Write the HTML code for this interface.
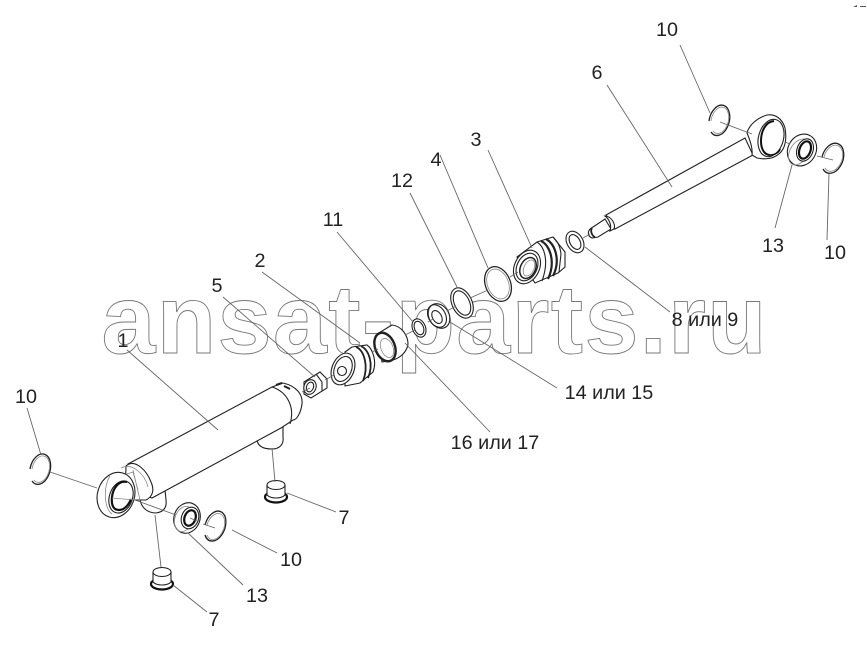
<!DOCTYPE html>
<html><head><meta charset="utf-8"><style>
html,body{margin:0;padding:0;background:#fff;width:867px;height:649px;overflow:hidden}
svg{display:block}
.wm{font:bold 97px "Liberation Sans",sans-serif;letter-spacing:1.4px;fill:#fff;stroke:#777;stroke-width:.9}
.l text{font:19.800px "Liberation Sans","DejaVu Sans",sans-serif;fill:#222;text-anchor:middle}
.lead{stroke:#666;stroke-width:.9;fill:none}
.p{stroke:#222;stroke-width:1.1;fill:#fff}
.n{stroke:#222;stroke-width:1.1;fill:none}
.g{stroke:#888;stroke-width:.8;fill:none}
.k{stroke:#111;stroke-width:2.2;fill:none}
</style></head><body>
<svg width="867" height="649" viewBox="0 0 867 649" xmlns="http://www.w3.org/2000/svg">
<rect width="867" height="649" fill="#fff"/>
<text class="wm" x="101.500" y="353">ansat-parts.ru</text>

<!-- plugs -->
<ellipse class="k" cx="276" cy="497" rx="11" ry="5.500"/>
<path class="p" d="M267 485L267 495C271 499 281 499 285 495L285 485Z"/>
<ellipse class="p" cx="276" cy="485" rx="9" ry="4.500"/>
<ellipse class="k" cx="162" cy="584" rx="11" ry="5.500"/>
<path class="p" d="M153 572L153 582C157 586 167 586 171 582L171 572Z"/>
<ellipse class="p" cx="162" cy="572" rx="9" ry="4.500"/>

<!-- cylinder ports -->
<path class="p" d="M257 440C258 447 264 449 272 449C280 449 284 444 283 437L283 425L257 436Z"/>
<path class="p" d="M140 499C141 508 148 513 156 513C164 512 167 507 166 500L165 490L140 497Z"/>

<!-- cylinder -->
<path class="p" d="M128 464L272 387L283 383C296 386 303 394 302 404C301 412 297 420 293 420L281 428L152 498L130 490Z"/>
<path class="n" d="M272 387C288 392 295 408 290 424"/>
<path class="n" d="M276 385L282 383M284 386L290 389" style="stroke-width:2"/>
<path class="p" d="M126 466C135 458 147 471 151 482C155 491 152 497 146 500L125 500Z"/>
<path class="g" d="M121 468C133 462 145 475 148 487"/>
<path class="g" d="M133 470L140 500M127 474L133 472L138 490"/>

<!-- left eye -->
<ellipse class="p" cx="116" cy="495" rx="18.500" ry="23" transform="rotate(18 116 495)"/>
<path class="g" d="M110 476C103 487 104 508 112 514"/>
<ellipse class="p" cx="121" cy="497" rx="11.500" ry="16.500" transform="rotate(20 121 497)"/>
<path class="k" d="M127 482C119 480 113 488 112 497C111 506 114 510 119 510C124 510 129 505 131 499"/>
<path class="g" d="M112 498L135 500"/>

<!-- rings 10 -->
<path class="n" d="M30 469A10 15.500 15 1 1 32 481" style="stroke-width:1.300"/>
<path class="g" d="M32 469A8.500 13.500 15 1 1 34 480"/>
<path class="n" d="M205 525A10 15.500 20 1 1 205 535" style="stroke-width:1.300"/>
<path class="g" d="M207 525A8.500 13.500 20 1 1 207 535"/>
<path class="n" d="M709 121A10 15.500 15 1 1 711 132" style="stroke-width:1.300"/>
<path class="g" d="M711 121A8.500 13.500 15 1 1 713 131"/>
<path class="n" d="M822 157A10.500 15.500 20 1 1 823 169" style="stroke-width:1.300"/>
<path class="g" d="M824 157A9 13.500 20 1 1 825 168"/>

<!-- lower bearing 13 -->
<ellipse class="p" cx="187" cy="518" rx="13" ry="15.500" transform="rotate(20 187 518)"/>
<ellipse class="g" cx="184" cy="519" rx="9" ry="13" transform="rotate(20 184 519)"/>
<ellipse class="p" cx="190" cy="518" rx="8.500" ry="11" transform="rotate(20 190 518)"/>
<ellipse class="k" cx="190" cy="518" rx="5.500" ry="8" transform="rotate(20 190 518)"/>

<!-- nut 5 -->
<path class="p" d="M304 382L320 372L327 379L327 388L311 398L304 394Z"/>
<path class="n" d="M316 374L322 382L322 391"/>
<ellipse class="p" cx="310" cy="387" rx="6" ry="7.500" transform="rotate(20 310 387)"/>
<ellipse class="n" cx="310" cy="387" rx="3.500" ry="5" transform="rotate(20 310 387)"/>

<!-- piston 2 -->
<path class="p" d="M345 352L352 347L367 345C373 349 377 362 373 372L360 383L345 386Z"/>
<path class="n" d="M356 347C364 350 369 366 363 381M361 346C369 350 374 364 368 378" style="stroke-width:1.800"/>
<ellipse class="p" cx="343" cy="369" rx="11" ry="16.500" transform="rotate(22 343 369)"/>
<ellipse class="n" cx="343" cy="369" rx="8.500" ry="13" transform="rotate(22 343 369)"/>
<circle class="n" cx="342" cy="371" r="4.500"/>

<!-- sleeve 16 -->
<path class="p" d="M377 334L392 325C402 326 408 336 408 344C407 352 400 358 393 360L382 362Z"/>
<ellipse class="p" cx="385" cy="347" rx="10.500" ry="15.500" transform="rotate(-22 385 347)"/>
<ellipse class="n" cx="385" cy="347" rx="9.500" ry="14.500" transform="rotate(-22 385 347)" style="stroke-width:1.800"/>
<ellipse class="g" cx="387" cy="348" rx="6" ry="10" transform="rotate(-22 387 348)"/>

<!-- ring 11 -->
<ellipse class="p" cx="419" cy="328" rx="6.500" ry="9.500" transform="rotate(-22 419 328)"/>
<ellipse class="n" cx="419" cy="328" rx="4.500" ry="7" transform="rotate(-22 419 328)"/>
<!-- ring 14/15 -->
<ellipse class="p" cx="439" cy="316" rx="10" ry="13" transform="rotate(-30 439 316)"/>
<ellipse class="n" cx="437" cy="316" rx="8.500" ry="12" transform="rotate(-30 437 316)"/>
<ellipse class="n" cx="437" cy="317" rx="4.500" ry="7" transform="rotate(-30 437 317)"/>
<!-- ring 12 -->
<ellipse class="p" cx="462" cy="303" rx="10" ry="16" transform="rotate(-25 462 303)"/>
<ellipse class="n" cx="462" cy="303" rx="7.500" ry="13" transform="rotate(-25 462 303)"/>
<!-- ring 4 -->
<ellipse class="n" cx="498" cy="284" rx="12.500" ry="18" transform="rotate(-22 498 284)" style="stroke-width:1.300"/>
<ellipse class="g" cx="498" cy="284" rx="10.500" ry="15.500" transform="rotate(-22 498 284)"/>

<!-- gland 3 -->
<path class="p" d="M517 257L537 242L553 237L565 252L565 267L558 273L535 283Z"/>
<path class="n" d="M541 241C550 245 556 262 548 279M546 239C555 244 561 260 553 276" style="stroke-width:2.200"/>
<path class="n" d="M537 242C545 247 549 262 542 281"/>
<path class="n" d="M553 237C558 242 560 246 561 254L559 272"/>
<ellipse class="p" cx="527" cy="267" rx="12.500" ry="17.500" transform="rotate(25 527 267)"/>
<ellipse class="n" cx="527" cy="267" rx="10" ry="14.500" transform="rotate(25 527 267)"/>
<ellipse class="n" cx="528" cy="268" rx="7.500" ry="11" transform="rotate(25 528 268)" style="stroke-width:1.500"/>
<ellipse class="g" cx="529" cy="268" rx="5" ry="8.500" transform="rotate(25 529 268)"/>

<!-- washer 8 -->
<ellipse class="p" cx="575" cy="242" rx="8" ry="11.500" transform="rotate(-30 575 242)"/>
<ellipse class="n" cx="575" cy="242" rx="5" ry="8" transform="rotate(-30 575 242)"/>

<!-- rod -->
<path class="p" d="M606 215L745 138L753 155L615 229Z"/>
<path class="p" d="M593 227L605 219L611 229L598 237L592 238C587 236 587 230 593 227Z"/>
<path class="p" d="M605 216C611 216 616 224 614 229L610 231C612 225 609 219 605 216Z"/>
<path class="n" d="M592 228C590 231 592 236 595 237" style="stroke-width:1.800"/>

<!-- rod eye -->
<path class="p" d="M747 133C749 125 757 118 767 115C775 114 782 118 785 128C787 140 785 148 780 153C775 158 767 160 757 158L752 155C753 148 750 140 747 133Z"/>
<ellipse class="p" cx="771" cy="138" rx="12.500" ry="19" transform="rotate(15 771 138)"/>
<path class="k" d="M774 121C765 122 761 132 761 141C761 150 765 155 770 155" style="stroke-width:2"/>
<path class="k" d="M770 155C776 155 780 151 780 149" style="stroke-width:1.500"/>

<!-- upper bearing 13 -->
<ellipse class="p" cx="802" cy="150" rx="14" ry="16.500" transform="rotate(30 802 150)"/>
<ellipse class="g" cx="799" cy="152" rx="9" ry="14" transform="rotate(30 799 152)"/>
<ellipse class="p" cx="805" cy="150" rx="8" ry="11.500" transform="rotate(20 805 150)"/>
<ellipse class="k" cx="805" cy="150" rx="5.500" ry="9" transform="rotate(20 805 150)"/>

<!-- leaders -->
<g class="lead">
<path d="M27 408L41 455M50 472L97 488"/>
<path d="M127 350L218 430"/>
<path d="M223 297L315 377"/>
<path d="M262 272L360 343"/>
<path d="M337 232L413 322"/>
<path d="M410 193L457 287"/>
<path d="M440 155L488 268"/>
<path d="M488 150L532 248"/>
<path d="M607 85L672 187"/>
<path d="M680 45L710 113M720 122L752 134"/>
<path d="M785 142L790 144M817 156L833 160"/>
<path d="M792 165L775 228"/>
<path d="M829 173L827 240"/>
<path d="M585 247L670 312"/>
<path d="M450 322L557 388"/>
<path d="M405 343L490 432"/>
<path d="M272 448L275 482"/>
<path d="M287 493L336 512"/>
<path d="M155 515L161 567"/>
<path d="M173 585L207 612"/>
<path d="M188 533L243 585"/>
<path d="M232 530L277 553"/>
<path d="M135 500L176 515M190 518L197 521M203 524L215 528"/>
<path d="M302 392L310 388M325 380L334 375M372 352L378 349M405 335L415 330M428 322L433 319M447 311L456 306M470 298L488 290M510 277L518 272M583 238L590 234"/>
</g>

<!-- corner mark -->
<path d="M853 7L857 5L857 7ZM860 6H866V7H860Z" fill="#555"/>

<g class="l">
<text x="26" y="403">10</text>
<text x="123" y="347">1</text>
<text x="217" y="292">5</text>
<text x="260" y="267">2</text>
<text x="333" y="226">11</text>
<text x="402" y="187">12</text>
<text x="436" y="166">4</text>
<text x="476" y="146">3</text>
<text x="597" y="79">6</text>
<text x="667" y="36">10</text>
<text x="773" y="252">13</text>
<text x="835" y="259">10</text>
<text x="705" y="326">8 или 9</text>
<text x="609" y="399">14 или 15</text>
<text x="495" y="449">16 или 17</text>
<text x="344" y="524">7</text>
<text x="291" y="566">10</text>
<text x="257" y="602">13</text>
<text x="214" y="626">7</text>
</g>
</svg>
</body></html>
